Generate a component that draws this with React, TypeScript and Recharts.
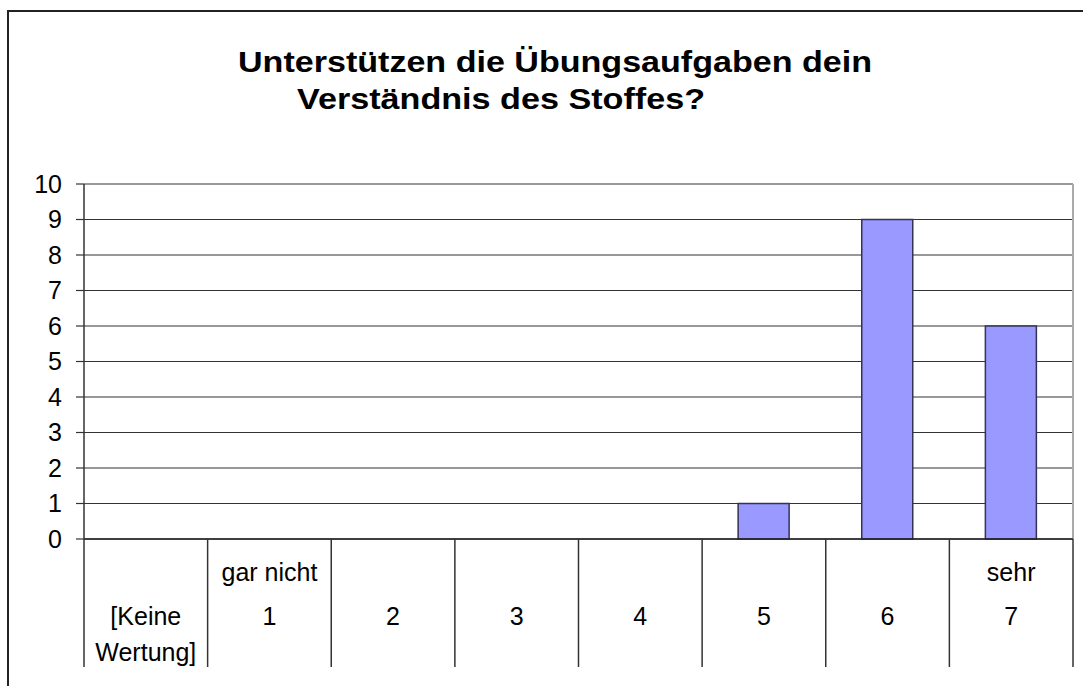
import React from "react";
import { BarChart, Bar, XAxis, YAxis, CartesianGrid, usePlotArea } from "recharts";

const categories = ["[Keine Wertung]", "1", "2", "3", "4", "5", "6", "7"];
const counts = [0, 0, 0, 0, 0, 1, 9, 6];
// tick text rows under each category (top, middle, bottom)
const tickRows = [
	["", "[Keine", "Wertung]"],
	["gar nicht", "1", ""],
	["", "2", ""],
	["", "3", ""],
	["", "4", ""],
	["", "5", ""],
	["", "6", ""],
	["sehr", "7", ""]
];
const yTicks = [0, 1, 2, 3, 4, 5, 6, 7, 8, 9, 10];
const titleLines = ["Unterstützen die Übungsaufgaben dein", "Verständnis des Stoffes?"];

const data = categories.map((name, i) => ({ name, count: counts[i] }));

const FONT = "'Liberation Sans', Arial, sans-serif";
const W = 1083;
const H = 686;
const PLOT_LEFT = 84;
const PLOT_RIGHT = 10;
const BAND = (W - PLOT_LEFT - PLOT_RIGHT) / categories.length;
const ROW_Y = [42, 86, 122];

const CategoryTick = (props: any) => {
	const { x, y, payload, index } = props;
	const i = payload.index ?? index;
	const rows = tickRows[i] || ["", String(payload.value), ""];
	const left = x - BAND / 2;
	const right = x + BAND / 2;
	const isLast = i === categories.length - 1;
	return (
		<g>
			<line x1={left} y1={y} x2={left} y2={y + 128} stroke="#333" strokeWidth={1.5} />
			{isLast && <line x1={right} y1={y} x2={right} y2={y + 128} stroke="#333" strokeWidth={1.5} />}
			{rows.map((r, k) =>
				r ? (
					<text key={k} x={x} y={y + ROW_Y[k]} textAnchor="middle" fontFamily={FONT} fontSize={25} fill="#000">
						{r}
					</text>
				) : null
			)}
		</g>
	);
};

const PlotBorder = () => {
	const area = usePlotArea();
	if (!area) return null;
	return (
		<g>
			<line x1={area.x} y1={area.y} x2={area.x + area.width} y2={area.y} stroke="#999" strokeWidth={2} />
			<line x1={area.x + area.width} y1={area.y} x2={area.x + area.width} y2={area.y + area.height} stroke="#aaa" strokeWidth={2} />
		</g>
	);
};

const App = () => {
	return (
		<div style={{ position: "absolute", left: 0, top: 0, width: W, height: H, background: "#fff", overflow: "hidden" }}>
			<div
				style={{
					position: "absolute",
					left: 7,
					top: 10,
					width: W,
					height: H,
					borderLeft: "2px solid #222",
					borderTop: "2px solid #222"
				}}
			/>
			<svg width={W} height={140} style={{ position: "absolute", left: 0, top: 0 }}>
				<text x={238} y={72} fontFamily={FONT} fontWeight="bold" fontSize={30} textLength={634} lengthAdjust="spacingAndGlyphs" fill="#000">
					{titleLines[0]}
				</text>
				<text x={297} y={109} fontFamily={FONT} fontWeight="bold" fontSize={30} textLength={408} lengthAdjust="spacingAndGlyphs" fill="#000">
					{titleLines[1]}
				</text>
			</svg>
			<div style={{ position: "absolute", left: 0, top: 0 }}>
				<BarChart width={W} height={H} data={data} margin={{ top: 184, right: PLOT_RIGHT, left: 0, bottom: 19 }}>
					<CartesianGrid vertical={false} stroke="#333" strokeWidth={1.2} />
					<XAxis
						dataKey="name"
						interval={0}
						height={128}
						tickLine={false}
						tickSize={0}
						tickMargin={0}
						axisLine={{ stroke: "#222", strokeWidth: 1.5 }}
						tick={<CategoryTick />}
					/>
					<YAxis
						width={PLOT_LEFT}
						domain={[0, 10]}
						ticks={yTicks}
						interval={0}
						tickSize={8}
						tickMargin={14}
						axisLine={{ stroke: "#333", strokeWidth: 1.5 }}
						tickLine={{ stroke: "#333", strokeWidth: 1.2 }}
						tick={{ fontFamily: FONT, fontSize: 25, fill: "#000" }}
					/>
					<Bar dataKey="count" barSize={51} fill="#9999FF" stroke="#333355" strokeWidth={1.5} isAnimationActive={false} />
					<PlotBorder />
				</BarChart>
			</div>
		</div>
	);
};

export default App;
